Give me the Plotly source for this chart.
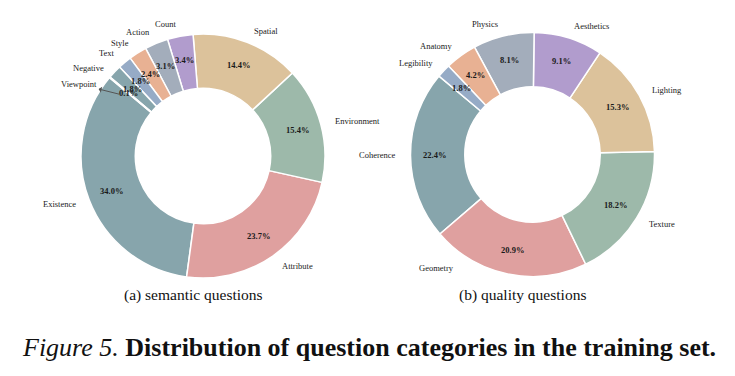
import math
import plotly.graph_objects as go

# ---------------- data ----------------
sem_labels = ["Existence", "Attribute", "Environment", "Spatial", "Count",
              "Action", "Style", "Text", "Negative", "Viewpoint"]
sem_values = [34.0, 23.7, 15.4, 14.4, 3.4, 3.1, 2.4, 1.8, 1.8, 0.1]

qual_labels = ["Coherence", "Geometry", "Texture", "Lighting", "Aesthetics",
               "Physics", "Anatomy", "Legibility"]
qual_values = [22.4, 20.9, 18.2, 15.3, 9.1, 8.1, 4.2, 1.8]

palette = ["#87a5ac", "#dfa09f", "#9db9aa", "#dcc29b", "#b19ccd",
           "#a3adbb", "#e8b193", "#96abc6"]

sub_captions = ["(a) semantic questions", "(b) quality questions"]
caption_italic = "Figure 5."
caption_bold = "Distribution of question categories in the training set."

# ---------------- layout constants ----------------
W, H = 735, 376
START = 140.0        # start angle (math degrees, counter-clockwise)
HOLE = 0.555
FONT = "Liberation Serif"
# manual label nudges in pixels (dx, dy with y downward)
NUDGE = {"Negative": (0, 5), "Geometry": (-49, -18)}

pies = [
    dict(labels=sem_labels, values=sem_values, cx=203, cy=156, r=122),
    dict(labels=qual_labels, values=qual_values, cx=532.5, cy=154.5, r=122),
]

fig = go.Figure()
annotations = []

def px(x):
    return x / W

def py(y):
    return 1 - y / H

for p in pies:
    labels, values = p["labels"], p["values"]
    cx, cy, r = p["cx"], p["cy"], p["r"]
    total = sum(values)
    colors = [palette[i % len(palette)] for i in range(len(values))]
    first_frac = values[0] / total * 360.0
    rot = (90.0 - START) - first_frac
    fig.add_trace(go.Pie(
        labels=labels, values=values, sort=False, direction="counterclockwise",
        rotation=rot, hole=HOLE, textinfo="none", hoverinfo="label+value",
        marker=dict(colors=colors, line=dict(color="white", width=1.5)),
        domain=dict(x=[px(cx - r), px(cx + r)], y=[py(cy + r), py(cy - r)]),
        showlegend=False,
    ))
    cum = START
    for lab, v in zip(labels, values):
        span = v / total * 360.0
        mid = math.radians(cum + span / 2)
        cum += span
        c, s = math.cos(mid), math.sin(mid)
        annotations.append(dict(
            x=px(cx + 0.8 * r * c), y=py(cy - 0.8 * r * s), xref="paper", yref="paper",
            text="<b>%.1f%%</b>" % v, showarrow=False,
            font=dict(family=FONT, size=8.5, color="#1a1a1a"),
            xanchor="center", yanchor="middle"))
        if lab == "Viewpoint":
            annotations.append(dict(
                x=px(cx + 0.9 * r * c), y=py(cy - 0.9 * r * s + 9),
                xref="paper", yref="paper", text=lab, showarrow=True,
                ax=-40, ay=-10, arrowside="start", arrowhead=2, arrowsize=0.7,
                arrowwidth=1, arrowcolor="#555",
                font=dict(family=FONT, size=8.5, color="#1a1a1a")))
            continue
        dx, dy = NUDGE.get(lab, (0, 0))
        lx = cx + 1.1 * r * c + dx
        ly = cy - 1.1 * r * s + dy
        annotations.append(dict(
            x=px(lx), y=py(ly), xref="paper", yref="paper", text=lab,
            showarrow=False, font=dict(family=FONT, size=8.5, color="#1a1a1a"),
            xanchor="left" if c > 0 else "right", yanchor="middle"))

for p, t in zip(pies, sub_captions):
    annotations.append(dict(
        x=px(p["cx"] - 10), y=py(295), xref="paper", yref="paper", text=t,
        showarrow=False, font=dict(family=FONT, size=15.5, color="#111"),
        xanchor="center", yanchor="middle"))

annotations.append(dict(
    x=px(369), y=py(347), xref="paper", yref="paper",
    text="<i>%s</i> <b>%s</b>" % (caption_italic, caption_bold),
    showarrow=False, font=dict(family=FONT, size=26, color="#111"),
    xanchor="center", yanchor="middle"))

fig.update_layout(
    width=W, height=H, margin=dict(l=0, r=0, t=0, b=0),
    paper_bgcolor="white", plot_bgcolor="white",
    annotations=annotations,
)

fig.write_html("out.html")
